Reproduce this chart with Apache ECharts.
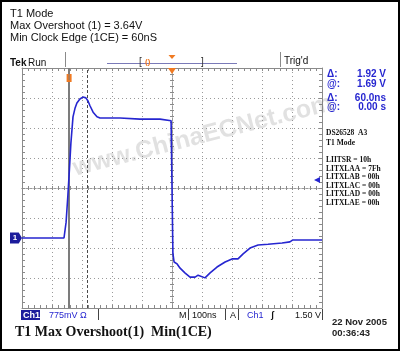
<!DOCTYPE html>
<html>
<head>
<meta charset="utf-8">
<script src="https://cdn.jsdelivr.net/npm/echarts@6/dist/echarts.min.js"></script>
<style>
  html, body { margin: 0; padding: 0; background: #fff; }
  #chart { width: 400px; height: 351px; }
</style>
</head>
<body>
<div id="chart"></div>
<script>
// trace: time in ns (0 = trigger), Ch1 in volts (775mV/div)
const timeNs = [-500, -360, -353, -347, -343, -337, -330, -323, -317, -307, -297, -287, -280, -273, -263, -250, -240,
  -173, -107, -40, -3, 0, 3, 7, 17, 27, 43, 60, 77, 87, 110, 127, 150, 177, 200, 220, 237, 260, 287, 320, 367, 393, 403, 443, 500];
const ch1Volts = [0, 0, 0.41, 1.11, 1.63, 2.45, 3.13, 3.36, 3.49, 3.59, 3.64, 3.62, 3.54, 3.41, 3.25, 3.13, 3.10,
  3.10, 3.07, 3.07, 3.03, 3.00, -0.40, -0.62, -0.67, -0.78, -0.90, -1.01, -1.01, -0.96, -1.03, -0.90, -0.75, -0.62, -0.54,
  -0.54, -0.41, -0.26, -0.18, -0.16, -0.13, -0.10, -0.05, -0.05, -0.05];

const cursorsNs = [-343, -283];
const triggerLevel = 1.5;
const vTop = 4.3917;     // 5.667 div above ground
const vBottom = -1.8083; // 2.333 div below ground

const headerLines = ['T1 Mode', 'Max Overshoot (1) = 3.64V', 'Min Clock Edge (1CE) = 60nS'];
const cursorLabels = ['\u0394:', '@:', '\u0394:', '@:'];
const cursorValues = ['1.92 V', '1.69 V', '60.0ns', '0.00 s'];
const registers = ['LIITSR = 10h', 'LITXLAA = 7Fh', 'LITXLAB = 00h', 'LITXLAC = 00h', 'LITXLAD = 00h', 'LITXLAE = 00h'];

const GRAY = '#8a8a8a';
const BLUE = '#2626d0';
const ORANGE = '#f07a22';
const SANS = 'Liberation Sans, Arial, sans-serif';
const SERIF = 'Liberation Serif, Times New Roman, serif';

const chart = echarts.init(document.getElementById('chart'), null, { renderer: 'canvas' });

// frame / crosshair axis helper
function gratAxis(extra) {
  return Object.assign({
    type: 'value',
    axisLabel: { show: false },
    splitLine: { show: false },
    axisLine: { show: true, onZero: false, lineStyle: { color: GRAY, width: 1 } },
    axisTick: { show: true, inside: true, length: 3, lineStyle: { color: GRAY } },
    minorTick: { show: true, splitNumber: 5, length: 3, lineStyle: { color: GRAY } }
  }, extra);
}
const dotted = { show: true, lineStyle: { color: '#9a9a9a', type: [1, 3], width: 1 } };
const centerLine = { show: true, onZero: false, lineStyle: { color: '#9a9a9a', type: [2, 2], width: 1 } };
const centerTick = { show: true, inside: true, length: 2, lineStyle: { color: GRAY } };
const centerMinor = { show: true, splitNumber: 5, length: 2, lineStyle: { color: GRAY } };

const xBase = { min: -500, max: 500, interval: 100 };
const yBase = { min: -4, max: 4, interval: 1 };

const graphics = [];
// outer frame
graphics.push({ type: 'rect', shape: { x: 1, y: 1, width: 398, height: 349 },
  style: { fill: null, stroke: '#000', lineWidth: 2 }, z: 100 });
// watermark
graphics.push({ type: 'text', x: 203, y: 136, rotation: 14.3 * Math.PI / 180, z: 1,
  style: { text: 'www.ChinaECNet.com', font: 'bold 25px ' + SANS, fill: 'rgba(120,120,120,0.22)',
    align: 'center', verticalAlign: 'middle', textAlign: 'center', textVerticalAlign: 'middle' } });
// header text
headerLines.forEach((t, i) => graphics.push({ type: 'text', x: 10, y: 14 + i * 12,
  style: { text: t, font: '11px ' + SANS, fill: '#111', verticalAlign: 'middle', textVerticalAlign: 'middle' } }));
// Tek Run bar
graphics.push({ type: 'text', x: 10, y: 63, style: { text: 'Tek', font: 'bold 10px ' + SANS, fill: '#111', verticalAlign: 'middle', textVerticalAlign: 'middle' } });
graphics.push({ type: 'text', x: 28, y: 63, style: { text: 'Run', font: '10px ' + SANS, fill: '#111', verticalAlign: 'middle', textVerticalAlign: 'middle' } });
graphics.push({ type: 'line', shape: { x1: 65.5, y1: 52, x2: 65.5, y2: 67 }, style: { stroke: GRAY, lineWidth: 1 } });
graphics.push({ type: 'line', shape: { x1: 107, y1: 63.5, x2: 237, y2: 63.5 }, style: { stroke: '#7a7ab8', lineWidth: 1 } });
graphics.push({ type: 'text', x: 139, y: 62, style: { text: '[', font: '10px ' + SANS, fill: '#333', verticalAlign: 'middle', textVerticalAlign: 'middle' } });
graphics.push({ type: 'text', x: 145, y: 62, style: { text: '()', font: 'bold 8px ' + SANS, fill: ORANGE, verticalAlign: 'middle', textVerticalAlign: 'middle' } });
graphics.push({ type: 'text', x: 201, y: 62, style: { text: ']', font: '10px ' + SANS, fill: '#333', verticalAlign: 'middle', textVerticalAlign: 'middle' } });
graphics.push({ type: 'polygon', shape: { points: [[168.5, 55], [175.5, 55], [172, 59]] }, style: { fill: ORANGE } });
graphics.push({ type: 'line', shape: { x1: 280.5, y1: 52, x2: 280.5, y2: 67 }, style: { stroke: GRAY, lineWidth: 1 } });
graphics.push({ type: 'text', x: 284, y: 61, style: { text: "Trig'd", font: '10px ' + SANS, fill: '#111', verticalAlign: 'middle', textVerticalAlign: 'middle' } });
// cursor readouts
cursorLabels.forEach((t, i) => {
  const y = [74, 84, 98, 107][i];
  graphics.push({ type: 'text', x: 327, y: y, style: { text: t, font: 'bold 10px ' + SANS, fill: BLUE, verticalAlign: 'middle', textVerticalAlign: 'middle' } });
  graphics.push({ type: 'text', x: 386, y: y, style: { text: cursorValues[i], font: 'bold 10px ' + SANS, fill: BLUE,
    align: 'right', textAlign: 'right', verticalAlign: 'middle', textVerticalAlign: 'middle' } });
});
graphics.push({ type: 'text', x: 326, y: 133, style: { text: 'DS26528  A3', font: 'bold 7.5px ' + SERIF, fill: '#111', verticalAlign: 'middle', textVerticalAlign: 'middle' } });
graphics.push({ type: 'text', x: 326, y: 143, style: { text: 'T1 Mode', font: 'bold 7.5px ' + SERIF, fill: '#111', verticalAlign: 'middle', textVerticalAlign: 'middle' } });
registers.forEach((t, i) => graphics.push({ type: 'text', x: 326, y: 160 + i * 8.6,
  style: { text: t, font: 'bold 7.5px ' + SERIF, fill: '#111', verticalAlign: 'middle', textVerticalAlign: 'middle' } }));
// status bar
graphics.push({ type: 'rect', shape: { x: 21, y: 310, width: 19, height: 10 }, style: { fill: '#1c1c9c' } });
graphics.push({ type: 'text', x: 23, y: 315.5, style: { text: 'Ch1', font: 'bold 9px ' + SANS, fill: '#fff', verticalAlign: 'middle', textVerticalAlign: 'middle' } });
graphics.push({ type: 'text', x: 49, y: 315.5, style: { text: '775mV \u03A9', font: '9px ' + SANS, fill: BLUE, verticalAlign: 'middle', textVerticalAlign: 'middle' } });
[98, 188, 225, 238, 322].forEach(x => graphics.push({ type: 'line', shape: { x1: x + 0.5, y1: 309, x2: x + 0.5, y2: 320 }, style: { stroke: '#444', lineWidth: 1 } }));
graphics.push({ type: 'text', x: 179, y: 315.5, style: { text: 'M', font: '9px ' + SANS, fill: '#111', verticalAlign: 'middle', textVerticalAlign: 'middle' } });
graphics.push({ type: 'text', x: 192, y: 315.5, style: { text: '100ns', font: '9px ' + SANS, fill: '#111', verticalAlign: 'middle', textVerticalAlign: 'middle' } });
graphics.push({ type: 'text', x: 230, y: 315.5, style: { text: 'A', font: '9px ' + SANS, fill: '#111', verticalAlign: 'middle', textVerticalAlign: 'middle' } });
graphics.push({ type: 'text', x: 247, y: 315.5, style: { text: 'Ch1', font: '9px ' + SANS, fill: BLUE, verticalAlign: 'middle', textVerticalAlign: 'middle' } });
graphics.push({ type: 'text', x: 271, y: 315.5, style: { text: '\u0283', font: 'bold 9px ' + SANS, fill: '#111', verticalAlign: 'middle', textVerticalAlign: 'middle' } });
graphics.push({ type: 'text', x: 321, y: 315.5, style: { text: '1.50 V', font: '9px ' + SANS, fill: '#111', align: 'right', textAlign: 'right', verticalAlign: 'middle', textVerticalAlign: 'middle' } });
// caption + date
graphics.push({ type: 'text', x: 15, y: 332, style: { text: 'T1 Max Overshoot(1)  Min(1CE)', font: 'bold 14px ' + SERIF, fill: '#111', verticalAlign: 'middle', textVerticalAlign: 'middle' } });
graphics.push({ type: 'text', x: 332, y: 322, style: { text: '22 Nov 2005', font: 'bold 9.5px ' + SANS, fill: '#222', verticalAlign: 'middle', textVerticalAlign: 'middle' } });
graphics.push({ type: 'text', x: 332, y: 333, style: { text: '00:36:43', font: 'bold 9.5px ' + SANS, fill: '#222', verticalAlign: 'middle', textVerticalAlign: 'middle' } });

const option = {
  animation: false,
  backgroundColor: '#fff',
  grid: { left: 22, right: 78, top: 68, bottom: 43, containLabel: false },
  xAxis: [
    gratAxis(Object.assign({ position: 'bottom', splitLine: dotted }, xBase)),
    gratAxis(Object.assign({ position: 'top' }, xBase)),
    gratAxis(Object.assign({ position: 'bottom', offset: -120, axisLine: centerLine, axisTick: centerTick, minorTick: centerMinor }, xBase)),
    gratAxis(Object.assign({ position: 'top', offset: -120, axisLine: centerLine, axisTick: centerTick, minorTick: centerMinor }, xBase))
  ],
  yAxis: [
    { type: 'value', min: vBottom, max: vTop, show: false, axisLine: { onZero: false }, splitLine: { show: false } },
    gratAxis(Object.assign({ position: 'left', splitLine: dotted }, yBase)),
    gratAxis(Object.assign({ position: 'right' }, yBase)),
    gratAxis(Object.assign({ position: 'left', offset: -150, axisLine: centerLine, axisTick: centerTick, minorTick: centerMinor }, yBase)),
    gratAxis(Object.assign({ position: 'right', offset: -150, axisLine: centerLine, axisTick: centerTick, minorTick: centerMinor }, yBase))
  ],
  graphic: graphics,
  series: [{
    type: 'line',
    xAxisIndex: 0,
    yAxisIndex: 0,
    data: timeNs.map((t, i) => [t, ch1Volts[i]]),
    showSymbol: false,
    z: 5,
    lineStyle: { color: BLUE, width: 1.6 },
    markLine: {
      silent: true,
      symbol: ['none', 'none'],
      label: { show: false },
      data: [
        { xAxis: cursorsNs[0], lineStyle: { color: '#7c7c7c', width: 2, type: 'solid' } },
        { xAxis: cursorsNs[1], lineStyle: { color: '#4a4a4a', width: 1, type: [3, 2] } }
      ]
    },
    markPoint: {
      silent: true,
      data: [
        { coord: [-500, 0], symbol: 'path://M0,0 L8,0 L11,5 L8,10 L0,10 Z', symbolSize: [12, 11], symbolOffset: [-6, 0],
          itemStyle: { color: '#1c1c9c' }, label: { show: true, formatter: '1', color: '#fff', fontSize: 8, fontWeight: 'bold', offset: [-1, 0] } },
        { coord: [500, triggerLevel], symbol: 'triangle', symbolRotate: 90, symbolSize: [6, 6], symbolOffset: [-5, 0],
          itemStyle: { color: BLUE }, label: { show: false } },
        { coord: [0, vTop], symbol: 'triangle', symbolRotate: 180, symbolSize: [8, 6], symbolOffset: [0, 3],
          itemStyle: { color: ORANGE }, label: { show: false } },
        { coord: [cursorsNs[0], vTop], symbol: 'path://M0,0 L2,0 L2,6 L3,6 L3,0 L5,0 L5,8 L0,8 Z', symbolSize: [5, 8], symbolOffset: [0, 10],
          itemStyle: { color: ORANGE }, label: { show: false } }
      ]
    }
  }]
};

chart.setOption(option);
</script>
</body>
</html>
